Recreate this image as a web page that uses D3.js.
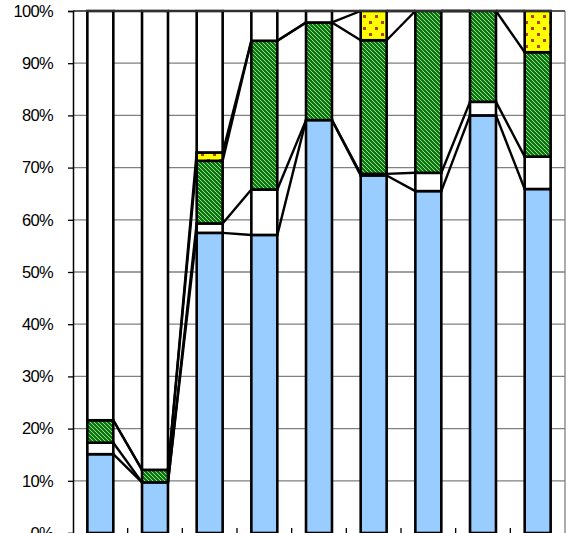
<!DOCTYPE html>
<html>

<head>
  <title>Stacked 100% Bars</title>
  <script src="https://unpkg.com/d3@7.8.2/dist/d3.min.js"></script>
  <style>
    body { margin: 0; background: #fff; }
    svg { display: block; }
  </style>
</head>

<body>
  <script>

    // data (percent of each bar)
    const categories = ["1", "2", "3", "4", "5", "6", "7", "8", "9"];
    const blue   = [15.1, 9.7, 57.5, 57.1, 79.1, 68.5, 65.5, 80.0, 65.9];
    const white  = [2.2, 0, 1.8, 8.7, 0, 0.3, 3.5, 2.6, 6.2];
    const green  = [4.3, 2.4, 12.0, 28.5, 18.7, 25.6, 31.0, 17.4, 20.0];
    const yellow = [0, 0, 1.6, 0, 0, 5.6, 0, 0, 7.9];
    const yTicks = [0, 10, 20, 30, 40, 50, 60, 70, 80, 90, 100];

    const rest = categories.map((c, i) => 100 - blue[i] - white[i] - green[i] - yellow[i]);
    const keys = ["blue", "white", "green", "yellow", "rest"];
    const rows = categories.map((c, i) => ({
      cat: c, blue: blue[i], white: white[i], green: green[i], yellow: yellow[i], rest: Math.max(0, rest[i])
    }));

    const width = 572;
    const height = 533;
    const plotLeft = 73, plotRight = 565, plotTop = 11, plotBottom = 533;

    const svg = d3.select("body").append("svg")
      .attr("width", width)
      .attr("height", height);

    // fill patterns
    const defs = svg.append("defs");
    const hatch = defs.append("pattern")
      .attr("id", "hatch")
      .attr("patternUnits", "userSpaceOnUse")
      .attr("width", 4).attr("height", 4);
    hatch.append("rect").attr("width", 4).attr("height", 4).attr("fill", "#008000");
    [0, 1, 2, 3].forEach(k => {
      hatch.append("rect").attr("x", k).attr("y", k).attr("width", 1).attr("height", 1).attr("fill", "#c0c0c0");
    });

    const dots = defs.append("pattern")
      .attr("id", "dots")
      .attr("patternUnits", "userSpaceOnUse")
      .attr("width", 12).attr("height", 12);
    dots.append("rect").attr("width", 12).attr("height", 12).attr("fill", "#ffff00");
    dots.append("rect").attr("x", 3).attr("y", 3).attr("width", 3).attr("height", 3).attr("fill", "#b04000");
    dots.append("rect").attr("x", 9).attr("y", 9).attr("width", 3).attr("height", 3).attr("fill", "#b04000");

    const fills = { blue: "#99ccff", white: "#ffffff", green: "url(#hatch)", yellow: "url(#dots)", rest: "#ffffff" };

    // scales
    const x = d3.scaleBand()
      .domain(categories)
      .range([plotLeft, plotRight])
      .paddingInner(0.525)
      .paddingOuter(0.2625);

    const y = d3.scaleLinear()
      .domain([0, 100])
      .range([plotBottom, plotTop]);

    // grid lines
    svg.append("g")
      .selectAll("line")
      .data(yTicks.filter(t => t > 0))
      .enter()
      .append("line")
      .attr("x1", plotLeft).attr("x2", plotRight)
      .attr("y1", d => y(d)).attr("y2", d => y(d))
      .style("stroke", "#808080")
      .style("stroke-width", "1.3px");

    // plot border (right side)
    svg.append("line")
      .attr("x1", plotRight).attr("x2", plotRight).attr("y1", plotTop).attr("y2", plotBottom)
      .style("stroke", "#808080").style("stroke-width", "1.3px");

    // stacked bars
    const stack = d3.stack().keys(keys)(rows);

    const bars = svg.append("g");
    stack.forEach(layer => {
      bars.append("g")
        .selectAll("rect")
        .data(layer)
        .enter()
        .append("rect")
        .attr("x", d => x(d.data.cat))
        .attr("width", x.bandwidth())
        .attr("y", d => y(d[1]))
        .attr("height", d => y(d[0]) - y(d[1]))
        .style("fill", fills[layer.key])
        .style("stroke", "#000")
        .style("stroke-width", "2.6px");
    });

    // series lines between neighbouring bars
    const serLines = [];
    stack.forEach(layer => {
      for (let i = 0; i < layer.length - 1; i++) {
        serLines.push({ a: layer[i], b: layer[i + 1] });
      }
    });
    svg.append("g")
      .selectAll("line")
      .data(serLines)
      .enter()
      .append("line")
      .attr("x1", d => x(d.a.data.cat) + x.bandwidth())
      .attr("y1", d => y(d.a[1]))
      .attr("x2", d => x(d.b.data.cat))
      .attr("y2", d => y(d.b[1]))
      .style("stroke", "#000")
      .style("stroke-width", "2.4px");

    // top border
    svg.append("line")
      .attr("x1", plotLeft).attr("x2", plotRight).attr("y1", plotTop).attr("y2", plotTop)
      .style("stroke", "#404040").style("stroke-width", "1.5px");

    // y axis
    const yAxis = svg.append("g")
      .attr("transform", `translate(${plotLeft},0)`)
      .call(d3.axisLeft(y).tickValues(yTicks).tickSize(5).tickFormat(d => d + "%"));
    yAxis.select(".domain").style("stroke", "#000").style("stroke-width", "1.5px");
    yAxis.selectAll(".tick line").style("stroke", "#000").style("stroke-width", "1.3px");
    yAxis.selectAll("text")
      .attr("x", -20)
      .style("font-family", "Liberation Sans, Arial, sans-serif")
      .style("font-size", "16.5px")
      .style("letter-spacing", "-0.7px")
      .style("fill", "#000");

    // x axis tick marks at the category boundaries
    const bounds = categories.slice(1).map(c => x(c) - x.step() * x.paddingInner() / 2);
    svg.append("g")
      .selectAll("line")
      .data(bounds)
      .enter()
      .append("line")
      .attr("x1", d => d).attr("x2", d => d)
      .attr("y1", plotBottom - 5).attr("y2", plotBottom + 5)
      .style("stroke", "#000")
      .style("stroke-width", "1.3px");

  </script>
</body>

</html>
